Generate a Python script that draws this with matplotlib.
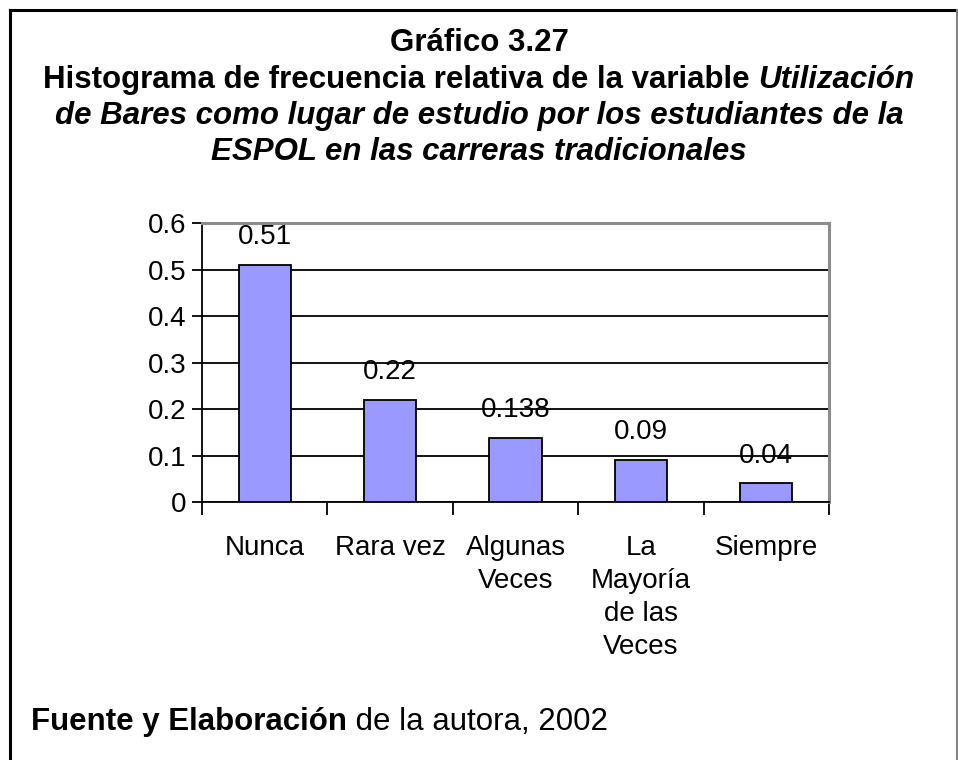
import matplotlib
matplotlib.use("Agg")
import matplotlib.pyplot as plt
from matplotlib.lines import Line2D

plt.rcParams['font.family'] = ['Liberation Sans', 'DejaVu Sans']

categories = ["Nunca", "Rara vez", "Algunas\nVeces", "La\nMayoría\nde las\nVeces", "Siempre"]
values = [0.51, 0.22, 0.138, 0.09, 0.04]
value_labels = ["0.51", "0.22", "0.138", "0.09", "0.04"]
yticks = [0, 0.1, 0.2, 0.3, 0.4, 0.5, 0.6]
ytick_labels = ["0", "0.1", "0.2", "0.3", "0.4", "0.5", "0.6"]

W, H = 958, 760
fig = plt.figure(figsize=(W / 100, H / 100), dpi=100)
fig.patch.set_facecolor("white")

# outer frame
fig.add_artist(Line2D([9.5 / W, 9.5 / W], [0, 1 - 9.5 / H], color="black", lw=2.2, transform=fig.transFigure))
fig.add_artist(Line2D([9.5 / W, 957 / W], [1 - 9.5 / H, 1 - 9.5 / H], color="black", lw=2.2, transform=fig.transFigure))
fig.add_artist(Line2D([957 / W, 957 / W], [0, 1 - 9.5 / H], color="#808080", lw=2.2, transform=fig.transFigure))

ax = fig.add_axes([202 / W, 1 - 502 / H, (829 - 202) / W, (502 - 223) / H])
x = list(range(len(categories)))
ax.bar(x, values, width=0.415, color="#9999FF", edgecolor="black", linewidth=1.3, zorder=3)
ax.set_xlim(-0.5, len(categories) - 0.5)
ax.set_ylim(0, 0.6)
ax.set_yticks(yticks)
ax.set_yticklabels(ytick_labels, fontsize=20)
ax.yaxis.grid(True, color="black", linewidth=1.3, zorder=0)
ax.set_axisbelow(True)

# category ticks at boundaries, labels at centers
ax.set_xticks([i - 0.5 for i in range(len(categories) + 1)])
ax.set_xticklabels([])
ax.set_xticks(x, minor=True)
ax.set_xticklabels(categories, minor=True, fontsize=20, linespacing=1.35, va="top")
ax.tick_params(axis="x", which="minor", length=0, pad=24)
ax.tick_params(axis="x", which="major", length=9, width=1.3, direction="out")
ax.tick_params(axis="y", length=7, width=1.3, direction="out", pad=4)

for s in ["left", "bottom"]:
    ax.spines[s].set_color("black")
    ax.spines[s].set_linewidth(1.3)
for s in ["top", "right"]:
    ax.spines[s].set_color("#8c8c8c")
    ax.spines[s].set_linewidth(2.2)

for xi, v, lab in zip(x, values, value_labels):
    ax.annotate(lab, (xi, v), xytext=(0, 20), textcoords="offset points",
                ha="center", va="center", fontsize=20)

# Title with mixed styles
fig.canvas.draw()
renderer = fig.canvas.get_renderer()


def draw_line(segments, y_px, fontsize, center=True, x_left=None):
    texts = []
    widths = []
    for s, weight, style in segments:
        t = fig.text(0, 1 - y_px / H, s, fontsize=fontsize, fontweight=weight,
                     fontstyle=style, va="baseline", ha="left")
        bb = t.get_window_extent(renderer=renderer)
        texts.append(t)
        widths.append(bb.width)
    total = sum(widths)
    start = (W - total) / 2 if center else x_left
    cur = start
    for t, w in zip(texts, widths):
        t.set_x(cur / W)
        cur += w


fs_t = 22.5
draw_line([("Gráfico 3.27", "bold", "normal")], 51, fs_t)
draw_line([("Histograma de frecuencia relativa de la variable ", "bold", "normal"),
           ("Utilización", "bold", "italic")], 88, fs_t)
draw_line([("de Bares como lugar de estudio por los estudiantes de la", "bold", "italic")], 124, fs_t)
draw_line([("ESPOL en las carreras tradicionales", "bold", "italic")], 160, fs_t)
draw_line([("Fuente y Elaboración", "bold", "normal"),
           (" de la autora, 2002", "normal", "normal")], 730, fs_t, center=False, x_left=31)

fig.savefig("out.png", dpi=100)
